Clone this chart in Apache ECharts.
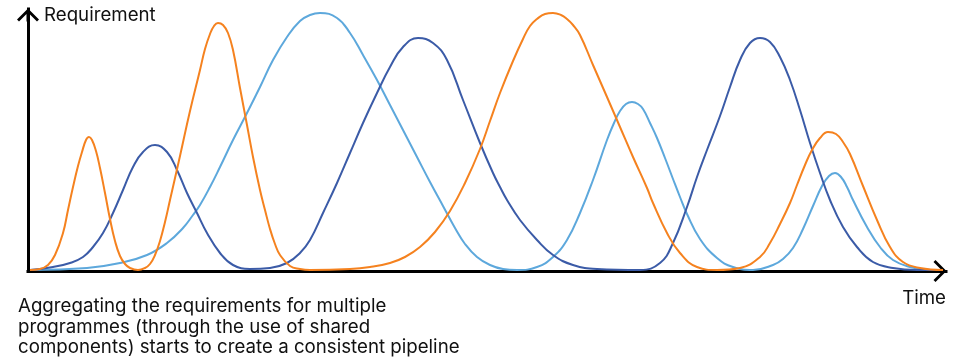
<!DOCTYPE html>
<html>
<head>
<meta charset="utf-8">
<script src="https://cdn.jsdelivr.net/npm/echarts@6/dist/echarts.min.js"></script>
<style>
html,body{margin:0;padding:0;background:#fff;}
#chart{width:959px;height:362px;}
</style>
</head>
<body>
<div id="chart"></div>
<script>
// Values (time position, requirement height above the time axis)
var orangeTime = [30,40,48,55,63,68,73,78,82,86,89,92,96,100,105,110,115,120,125,130,138,145,150,155,160,165,170,180,190,200,205,210,214,218,223,228,233,240,247,253,260,265,270,275,280,290,300,310,350,370,390,405,420,435,450,465,480,490,500,513,523,530,537,545,553,561,567,573,580,593,607,620,633,647,653,667,680,697,717,740,760,770,780,790,797,805,812,820,828,836,843,850,863,877,890,903,920,943];
var orangeReq  = [1,2,6,16,38,61,84,105,119,131,134,131,120,103,78,52,30,15,7,3,1,3,7,16,30,49,71,115,160,201,222,237,245,248,246,238,221,183,146,114,81,61,42,27,16,5,2,1,2,4,8,14,24,39,60,88,122,150,178,210,232,245,252,257,258,256,252,246,236,206,174,144,114,83,68,38,18,4,1,3,14,28,47,68,86,106,121,133,139,137,129,117,85,51,24,9,3,1];

var darkTime = [30,53,70,83,93,103,113,123,133,143,155,167,177,187,197,207,220,233,250,270,287,300,310,323,337,350,363,377,390,403,418,433,447,463,480,493,500,507,520,537,553,573,597,640,660,673,687,697,707,720,730,740,750,760,770,780,790,800,810,820,830,843,857,873,893,917,943];
var darkReq  = [1,4,8,14,24,38,58,81,104,119,126,119,101,78,58,38,18,6,2,3,8,18,31,58,88,118,148,178,204,224,233,228,211,171,128,98,84,71,51,31,16,6,2,1,8,28,64,94,121,155,184,211,228,233,229,214,191,161,128,98,71,44,24,9,3,1,1];

var lightTime = [30,87,120,147,167,183,193,200,210,220,233,247,260,273,287,300,310,320,337,350,363,377,390,403,417,430,443,455,465,477,490,503,517,537,553,567,580,593,607,614,620,626,632,638,643,650,657,665,673,680,687,700,717,733,753,773,783,793,803,813,822,829,835,841,847,853,867,880,893,910,930];
var lightReq  = [1,3,8,16,28,43,56,66,84,104,131,158,184,211,234,250,256,258,253,238,216,191,166,141,114,89,65,43,27,14,6,2,1,4,14,31,58,91,131,148,160,167,169,167,162,148,133,113,92,74,57,32,13,4,1,6,12,23,42,65,85,95,98,94,84,71,44,24,11,4,1];

var yTitle = 'Requirement';
var xTitle = 'Time';
var captionLines = [
  'Aggregating the requirements for multiple',
  'programmes (through the use of shared',
  'components) starts to create a consistent pipeline'
];

function pairs(xs, ys) {
  return xs.map(function (x, i) { return [x, ys[i]]; });
}

var arrowPath = 'path://M11,0 L22,11 L20,13 L12.5,5.5 L12.5,13 L9.5,13 L9.5,5.5 L2,13 L0,11 Z';
var axisLineStyle = { color: '#000', width: 3, cap: 'square' };

var chart = echarts.init(document.getElementById('chart'), null, { renderer: 'canvas' });
chart.setOption({
  animation: false,
  backgroundColor: '#fff',
  grid: { left: 28, right: 13, top: 9, bottom: 91, containLabel: false },
  xAxis: {
    type: 'value', min: 28, max: 946,
    axisLine: { show: true, onZero: false, lineStyle: axisLineStyle,
      symbol: ['none', arrowPath], symbolSize: [22, 13], symbolOffset: [0, -6] },
    axisTick: { show: false }, axisLabel: { show: false }, splitLine: { show: false }
  },
  yAxis: {
    type: 'value', min: 0, max: 262,
    axisLine: { show: true, onZero: false, lineStyle: axisLineStyle,
      symbol: ['none', arrowPath], symbolSize: [22, 13], symbolOffset: [0, -6] },
    axisTick: { show: false }, axisLabel: { show: false }, splitLine: { show: false }
  },
  series: [
    { type: 'line', data: pairs(lightTime, lightReq), smooth: 0.45, showSymbol: false, clip: false,
      lineStyle: { color: '#5DA8DC', width: 2 } },
    { type: 'line', data: pairs(darkTime, darkReq), smooth: 0.45, showSymbol: false, clip: false,
      lineStyle: { color: '#3B5BA7', width: 2 } },
    { type: 'line', data: pairs(orangeTime, orangeReq), smooth: 0.45, showSymbol: false, clip: false,
      lineStyle: { color: '#F5821F', width: 2 } }
  ],
  graphic: [
    { type: 'text', left: 44, top: 6, z: 10,
      style: { text: yTitle, font: '18.7px Inter', fill: '#111' } },
    { type: 'text', right: 13, top: 289, z: 10,
      style: { text: xTitle, font: '18.7px Inter', fill: '#111' } },
    { type: 'text', left: 18, top: 296, z: 10,
      style: { text: captionLines.join('\n'), font: '18.7px Inter', lineHeight: 20.7, fill: '#111' } }
  ]
});
</script>
</body>
</html>
